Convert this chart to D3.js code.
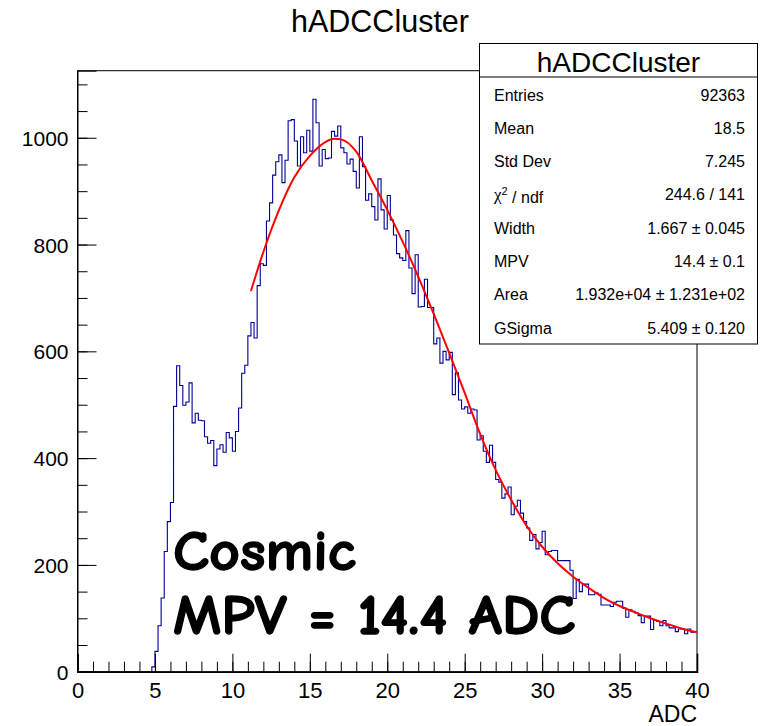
<!DOCTYPE html>
<html>
<head>
<meta charset="utf-8">
<script src="https://cdn.jsdelivr.net/npm/d3@7"></script>
<style>
  html, body { margin: 0; padding: 0; background: #fff; }
  svg { display: block; }
  text { font-family: "Liberation Sans", Arial, Helvetica, sans-serif; fill: #000; }
</style>
</head>
<body>
<svg id="c" width="763" height="726"></svg>
<script>
// Histogram hADCCluster: 200 bins from 0 to 40 ADC
const xMin = 0, xMax = 40, nBins = 200;
const counts = [
  0,0,0,0,0,0,0,0,0,0, 0,0,0,0,0,0,0,0,0,0, 0,0,0,0,9,38,86,138,225,281,
  317,497,573,536,499,505,541,466,484,471, 470,440,428,433,386,417,425,411,448,438,
  413,450,494,559,574,629,654,625,723,764, 761,844,878,930,955,968,916,958,1032,1034,
  994,947,1002,972,1014,975,1072,1028,947,978, 961,962,1012,1003,1022,981,972,951,960,937,
  906,1002,946,883,895,871,846,923,865,829, 892,846,818,783,775,770,826,756,708,781,
  683,684,735,682,682,614,625,578,600,584, 598,519,560,509,492,496,484,492,490,434,
  442,413,392,424,392,360,355,325,333,346, 294,310,321,297,281,269,246,257,230,242,
  263,219,225,227,227,208,208,208,208,190, 137,173,150,164,164,144,144,148,145,125,
  125,125,122,130,132,132,119,102,116,113, 110,105,92,104,104,79,96,94,86,96,
  86,82,82,75,80,80,71,80,74,75
];

// Landau (x) Gauss fit curve, sampled along its drawn path
const fitX = [11.2, 12, 13, 14, 15, 16, 16.6, 17, 18, 19, 20, 21, 22, 23, 24, 25, 26, 27, 28, 29, 30, 31, 32, 33, 34, 35, 36, 37, 38, 39, 40];
const fitY = [713, 786, 864, 926, 966, 992, 998, 997, 974, 920, 865, 805, 740, 670, 597, 522, 445, 378, 322, 273, 234, 203, 178, 157, 138, 123, 111, 100, 90, 81, 74];

const xTicks = [0, 5, 10, 15, 20, 25, 30, 35, 40];
const yTicks = [0, 200, 400, 600, 800, 1000];

const statLabels = ["Entries", "Mean", "Std Dev", "chi2", "Width", "MPV", "Area", "GSigma"];
const statValues = ["92363", "18.5", "7.245", "244.6 / 141", "1.667 \u00b1 0.045", "14.4 \u00b1 0.1", "1.932e+04 \u00b1 1.231e+02", "5.409 \u00b1 0.120"];

const histTitle = "hADCCluster";
const xTitle = "ADC";
const noteLines = ["Cosmic", "MPV = 14.4 ADC"];

// ---- drawing ----
const svg = d3.select("#c");
const F = { left: 77.5, right: 697, top: 70.7, bottom: 671.7 };
const yMax = d3.max(counts) * 1.05;

const x = d3.scaleLinear().domain([xMin, xMax]).range([F.left, F.right]);
const y = d3.scaleLinear().domain([0, yMax]).range([F.bottom, F.top]);

// title
svg.append("text")
  .attr("x", 380).attr("y", 32)
  .attr("text-anchor", "middle")
  .style("font-size", "30.5px")
  .text(histTitle);

// frame
svg.append("rect")
  .attr("x", F.left).attr("y", F.top)
  .attr("width", F.right - F.left).attr("height", F.bottom - F.top)
  .attr("fill", "none").attr("stroke", "#000").attr("stroke-width", 1);

// histogram outline
const bw = (xMax - xMin) / nBins;
const stepPts = counts.map((c, i) => [xMin + i * bw, c]);
stepPts.push([xMax, counts[counts.length - 1]]);
const histLine = d3.line()
  .x(d => x(d[0])).y(d => y(d[1]))
  .curve(d3.curveStepAfter);
svg.append("path")
  .attr("d", histLine(stepPts))
  .attr("fill", "none")
  .attr("stroke", "#000099")
  .attr("stroke-width", 1.1);

// fit function
const fitLine = d3.line()
  .x((d, i) => x(fitX[i])).y(d => y(d))
  .curve(d3.curveMonotoneX);
svg.append("path")
  .attr("d", fitLine(fitY))
  .attr("fill", "none")
  .attr("stroke", "#ff0000")
  .attr("stroke-width", 2);

// x axis: ticks point into the frame
const xMinor = d3.range(xMin, xMax + 0.001, 1);
const gx = svg.append("g").attr("transform", `translate(0,${F.bottom})`);
gx.call(d3.axisBottom(x).tickValues(xMinor).tickSize(-10).tickFormat(""))
  .call(g => g.select(".domain").remove());
gx.append("g")
  .call(d3.axisBottom(x).tickValues(xTicks).tickSize(-18).tickFormat(d3.format("d")))
  .call(g => g.select(".domain").attr("stroke-width", 1.6))
  .call(g => g.selectAll("text").style("font-size", "22px").attr("dy", "0").attr("y", 26)
    .style("font-family", '"Liberation Sans", Arial, sans-serif'));
svg.selectAll("g.tick line").attr("stroke", "#000");

svg.append("text")
  .attr("x", F.right).attr("y", 722)
  .attr("text-anchor", "end")
  .style("font-size", "23px")
  .text(xTitle);

// y axis
const yMinor = d3.range(0, yMax, 50);
const gy = svg.append("g").attr("transform", `translate(${F.left},0)`);
gy.call(d3.axisLeft(y).tickValues(yMinor).tickSize(-10).tickFormat(""))
  .call(g => g.select(".domain").remove());
gy.append("g")
  .call(d3.axisLeft(y).tickValues(yTicks).tickSize(-19).tickFormat(d3.format("d")))
  .call(g => g.select(".domain").attr("stroke-width", 1))
  .call(g => g.selectAll("text").style("font-size", "21px").attr("x", -9).attr("dy", "0.36em")
    .style("font-family", '"Liberation Sans", Arial, sans-serif'));
svg.selectAll("g.tick line").attr("stroke", "#000");

// statistics box
const S = { x: 479.5, y: 43.5, w: 278, h: 300.5, sep: 77 };
const sb = svg.append("g");
sb.append("rect")
  .attr("x", S.x).attr("y", S.y).attr("width", S.w).attr("height", S.h)
  .attr("fill", "#fff").attr("stroke", "#000").attr("stroke-width", 1);
sb.append("line")
  .attr("x1", S.x).attr("x2", S.x + S.w).attr("y1", S.sep).attr("y2", S.sep)
  .attr("stroke", "#000");
sb.append("text")
  .attr("x", S.x + S.w / 2).attr("y", 71.5)
  .attr("text-anchor", "middle")
  .style("font-size", "28px")
  .text(histTitle);

const rowY = i => 100.5 + i * 33.3;
statLabels.forEach((lab, i) => {
  const t = sb.append("text")
    .attr("x", 494).attr("y", rowY(i))
    .style("font-size", "16px");
  if (lab === "chi2") {
    t.append("tspan").style("font-family", '"Liberation Serif", "DejaVu Serif", serif')
      .style("font-size", "17px").text("\u03c7");
    t.append("tspan").attr("dy", "-0.45em").style("font-size", "11px").text("2");
    t.append("tspan").attr("dy", "0.45em").text(" / ndf");
  } else {
    t.text(lab);
  }
  sb.append("text")
    .attr("x", 745).attr("y", rowY(i))
    .attr("text-anchor", "end")
    .style("font-size", "16px")
    .text(statValues[i]);
});

// annotation
const note = svg.append("g")
  .attr("transform", "translate(173,0)");
noteLines.forEach((s, i) => {
  note.append("text")
    .attr("x", 0).attr("y", 0)
    .attr("transform", `translate(0,${[570, 634][i]}) scale(1.2,1.12)`)
    .style("font-family", '"Comic Sans MS", "Comic Neue", "DejaVu Sans", sans-serif')
    .style("font-weight", "bold")
    .style("font-size", "50px")
    .attr("stroke", "#000")
    .attr("stroke-width", 1.2)
    .attr("stroke-linejoin", "round")
    .text(s);
});
</script>
</body>
</html>
